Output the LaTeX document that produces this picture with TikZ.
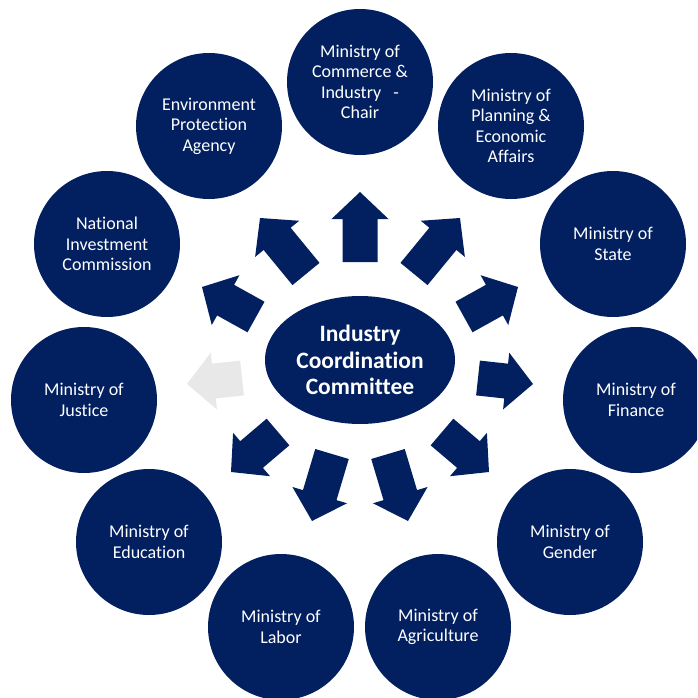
\documentclass[tikz,border=0pt]{standalone}
\usepackage{fontspec}
\setmainfont[Ligatures={NoCommon}]{Carlito}
\usetikzlibrary{calc,shapes.geometric}
\definecolor{navy}{RGB}{2,32,96}
\definecolor{fadegray}{RGB}{232,232,232}
\tikzset{
  circ/.style={circle, fill=navy, minimum size=146pt, inner sep=0pt, text=white,
    align=center, font=\fontsize{18}{20.5}\selectfont},
  hub/.style={ellipse, fill=navy, minimum width=190pt, minimum height=128pt, inner sep=0pt,
    text=white, align=center, font=\bfseries\fontsize{23.5}{26.5}\selectfont},
  blk/.style={fill=navy},
  blkfade/.style={fill=fadegray}
}
% block arrow from tail coordinate #2 to tip coordinate #3
\newcommand\blkarrow[3]{%
  \coordinate (#2b) at ($(#3)!27pt!(#2)$);
  \fill[#1] ($(#2)!17.5pt!90:(#3)$) -- ($(#2b)!17.5pt!-90:(#2)$) -- ($(#2b)!28.5pt!-90:(#2)$)
    -- (#3) -- ($(#2b)!28.5pt!90:(#2)$) -- ($(#2b)!17.5pt!90:(#2)$) -- ($(#2)!17.5pt!-90:(#3)$) -- cycle;
}
\begin{document}
\begin{tikzpicture}[x=1pt,y=-1pt]
\useasboundingbox (0,0) rectangle (697,698);
\clip (0,0) rectangle (697,698);
\fill[white] (0,0) rectangle (697,698);

\node[hub] (hub) at (360,360) {Industry\\Coordination\\Committee};

\node[circ] (commerce) at (360,82) {Ministry of\\Commerce \&\\Industry\ \ \ -\\Chair};
\node[circ] (planning) at (511,126) {Ministry of\\Planning \&\\Economic\\Affairs};
\node[circ] (state) at (613,244) {Ministry of\\State};
\node[circ] (finance) at (636,400) {Ministry of\\Finance};
\node[circ] (gender) at (570,542) {Ministry of\\Gender};
\node[circ] (agri) at (438,627) {Ministry of\\Agriculture};
\node[circ] (labor) at (281,627) {Ministry of\\Labor};
\node[circ] (edu) at (149,542) {Ministry of\\Education};
\node[circ] (justice) at (84,400) {Ministry of\\Justice};
\node[circ] (nic) at (107,244) {National\\Investment\\Commission};
\node[circ] (epa) at (209,126) {Environment\\Protection\\Agency};

\coordinate (t1) at (360,262); \coordinate (h1) at (360,192);
\coordinate (t2) at (414,274); \coordinate (h2) at (460,218);
\coordinate (t3) at (464,317); \coordinate (h3) at (518,287);
\coordinate (t4) at (478,378); \coordinate (h4) at (533,384);
\coordinate (t5) at (442,432); \coordinate (h5) at (489,472);
\coordinate (t6) at (388,454); \coordinate (h6) at (408,521);
\coordinate (t7) at (332,454); \coordinate (h7) at (312,521);
\coordinate (t8) at (278,432); \coordinate (h8) at (231,472);
\coordinate (t9) at (242,378); \coordinate (h9) at (187,384);
\coordinate (t10) at (256,317); \coordinate (h10) at (202,287);
\coordinate (t11) at (306,274); \coordinate (h11) at (260,218);

\blkarrow{blk}{t1}{h1}
\blkarrow{blk}{t2}{h2}
\blkarrow{blk}{t3}{h3}
\blkarrow{blk}{t4}{h4}
\blkarrow{blk}{t5}{h5}
\blkarrow{blk}{t6}{h6}
\blkarrow{blk}{t7}{h7}
\blkarrow{blk}{t8}{h8}
\blkarrow{blkfade}{t9}{h9}
\blkarrow{blk}{t10}{h10}
\blkarrow{blk}{t11}{h11}
\end{tikzpicture}
\end{document}
